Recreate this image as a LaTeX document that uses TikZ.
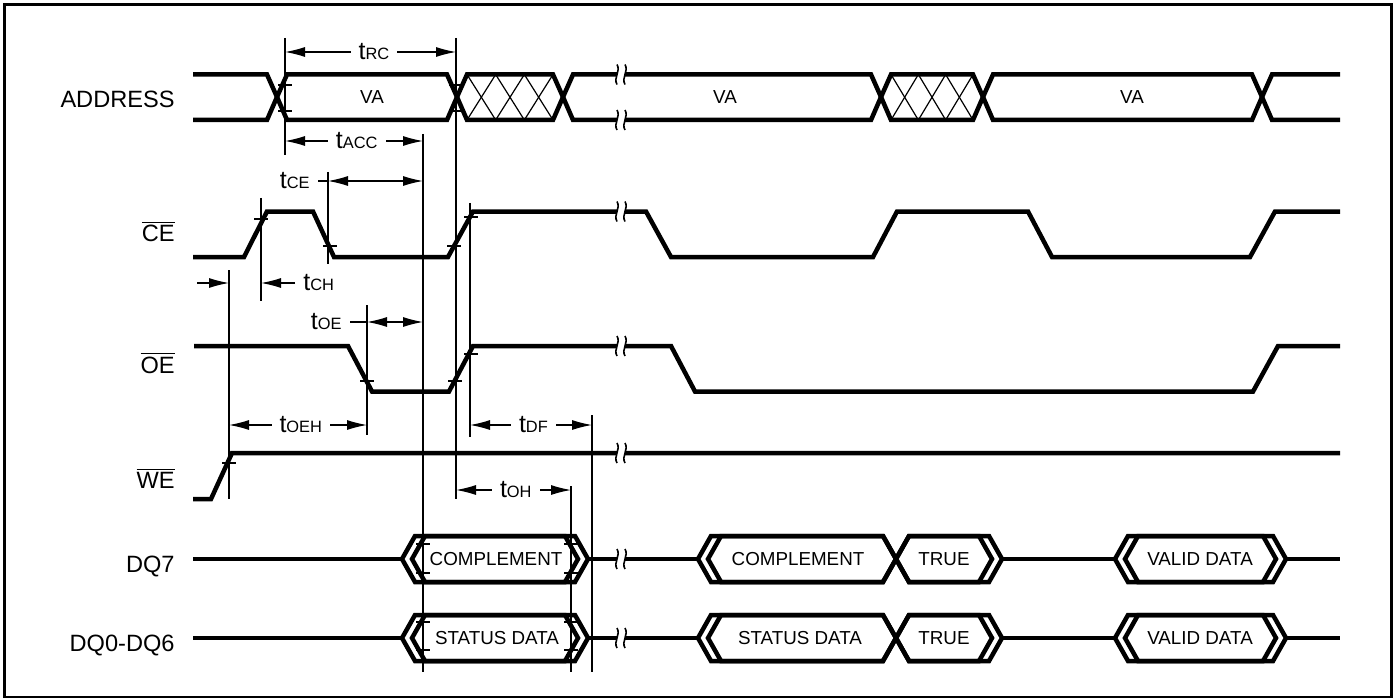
\documentclass[tikz,border=0pt]{standalone}
\usepackage{fontspec}
\setmainfont{Liberation Sans}
\usetikzlibrary{arrows.meta}

\tikzset{
  sig/.style={line width=2.25pt},
  guide/.style={line width=0.55pt},
  hatchln/.style={line width=0.6pt},
  dimarr/.style={guide, {Latex[length=10pt,width=5pt]}-{Latex[length=10pt,width=5pt]}},
  onearr/.style={guide, -{Latex[length=10pt,width=5pt]}},
  tlab/.style={fill=white, inner xsep=4pt, inner ysep=1pt},
  sname/.style={anchor=base east, inner sep=0pt, font=\fontsize{11.8}{14}\selectfont},
  btext/.style={inner sep=1pt, font=\fontsize{9.4}{11}\selectfont},
}
\newcommand{\tsub}[1]{{\fontsize{12.5}{14}\selectfont t}{\fontsize{8.2}{9}\selectfont #1}}
% hexagon data box: left tip, right tip, level
\newcommand{\dhex}[3]{\draw[sig] (#1,#3) -- (#1+13,#3-23) -- (#2-13,#3-23) -- (#2,#3) -- (#2-13,#3+23) -- (#1+13,#3+23) -- cycle;}
% two boxes meeting in one crossing: left tip, crossing, right tip, level
\newcommand{\dpair}[4]{\draw[sig] (#1,#4) -- (#1+13,#4-23) -- (#2-13,#4-23) -- (#2+13,#4+23) -- (#3-13,#4+23) -- (#3,#4) -- (#3-13,#4-23) -- (#2+13,#4-23) -- (#2-13,#4+23) -- (#1+13,#4+23) -- cycle;}

\begin{document}
\begin{tikzpicture}[x=0.5pt,y=-0.5pt]
  \useasboundingbox (0,0) rectangle (1400,700);
  \draw[line width=1.35pt] (4.5,4.5) rectangle (1391.5,697);

  % signal names
  \node[sname] (nAddr) at (175,108) {ADDRESS};
  \node[sname] (nCE)   at (175,242) {$\overline{\mbox{CE}}$};
  \node[sname] (nOE)   at (175,373) {$\overline{\mbox{OE}}$};
  \node[sname] (nWE)   at (175,488) {$\overline{\mbox{WE}}$};
  \node[sname] (nDQa)  at (175,572) {DQ7};
  \node[sname] (nDQb)  at (175,651) {DQ0-DQ6};

  % reference lines and level ticks
  \def\guides {285/38/155, 456/38/499, 423/134/672, 328/172/264, 261/198/301, 229/270/499, 367/305/435, 470/203/437, 592/415/672, 571/486/672}
  \foreach \x/\ya/\yb in \guides
  {  \draw[guide] (\x,\ya) -- (\x,\yb);
  }
  \def\ticks {285/85, 285/111, 456/85, 456/111, 261/219, 330/246, 454/246, 471/217, 367/381, 455/381, 471/354, 229/463, 423/544, 423/573, 571/544, 571/573, 423/622, 423/650, 571/622, 571/650}
  \foreach \x/\y in \ticks
  {  \draw[guide] (\x-7,\y) -- (\x+7,\y);
  }

  % ADDRESS bus
  \def\valid {277/457, 563/881, 983/1262}
  \foreach \a/\b in \valid
  {  \draw[sig] (\a,97) -- (\a+10,74.5) -- (\b-10,74.5) -- (\b,97) -- (\b-10,120) -- (\a+10,120) -- cycle;
  }
  \foreach \a/\b in {457/563, 881/983}
  {  \pgfmathsetmacro\w{(\b-\a-20)/3}
     \foreach \k in {0,1,2}
     {  \draw[hatchln] (\a+10+\k*\w,74.5) -- (\a+10+\k*\w+\w,120);
        \draw[hatchln] (\a+10+\k*\w,120) -- (\a+10+\k*\w+\w,74.5);
     }
     \draw[sig] (\a,97) -- (\a+10,74.5) -- (\b-10,74.5) -- (\b,97) -- (\b-10,120) -- (\a+10,120) -- cycle;
  }
  \draw[sig] (193,74.5) -- (267,74.5) -- (277,97) -- (267,120) -- (193,120);
  \draw[sig] (1340,74.5) -- (1272,74.5) -- (1262,97) -- (1272,120) -- (1340,120);
  \node[btext] (va1) at (372,97) {VA};
  \node[btext] (va2) at (725,97) {VA};
  \node[btext] (va3) at (1132,97) {VA};

  % control lines
  \draw[sig] (193,257) -- (244,257) -- (267,211.5) -- (313,211.5) -- (334,257) -- (448,257) -- (473,211.5) -- (646,211.5) -- (671,257) -- (873,257) -- (897,211.5) -- (1028,211.5) -- (1052,257) -- (1250,257) -- (1275,211.5) -- (1340,211.5);
  \draw[sig] (194,346) -- (348,346) -- (372,391.5) -- (449,391.5) -- (473,346) -- (671,346) -- (695,391.5) -- (1253,391.5) -- (1278,346) -- (1340,346);
  \draw[sig] (193,499) -- (211,499) -- (232,453) -- (1340,453);

  % data lines
  \foreach \y in {559,638}
  {  \draw[sig] (193,\y) -- (402,\y);
     \draw[sig] (588,\y) -- (698,\y);
     \draw[sig] (1002,\y) -- (1115,\y);
     \draw[sig] (1286,\y) -- (1340,\y);
     \foreach \d in {0,10}
     {  \dhex{402+\d}{578+\d}{\y}
        \dpair{698+\d}{896}{992+\d}{\y}
        \dhex{1115+\d}{1276+\d}{\y}
     }
  }
  \node[btext] (d7a) at (496,559) {COMPLEMENT};
  \node[btext] (d7b) at (798,559) {COMPLEMENT};
  \node[btext] (d7c) at (944,559) {TRUE};
  \node[btext] (d7d) at (1200,559) {VALID DATA};
  \node[btext] (d0a) at (497,638) {STATUS DATA};
  \node[btext] (d0b) at (800,638) {STATUS DATA};
  \node[btext] (d0c) at (944,638) {TRUE};
  \node[btext] (d0d) at (1200,638) {VALID DATA};

  % breaks
  \foreach \y in {74.5,120,211.5,346,453,559,638}
  {  \fill[white] (617,\y-5) rectangle (625,\y+5);
     \draw[line width=0.8pt] (617,\y-10) .. controls (621,\y-3) and (613,\y+3) .. (617,\y+10);
     \draw[line width=0.8pt] (625,\y-10) .. controls (629,\y-3) and (621,\y+3) .. (625,\y+10);
  }

  % timing parameters
  \def\dims {285/456/52/RC, 285/423/141/ACC, 229/367/425/OEH, 470/592/425/DF, 456/571/490/OH}
  \foreach \a/\b/\y/\s in \dims
  {  \draw[dimarr] (\a,\y) -- (\b,\y) node[tlab, pos=0.52] (t\s) {\tsub{\s}};
  }
  \node[tlab, anchor=east] (tCE) at (318,181) {\tsub{CE}};
  \draw[guide] (tCE.east) -- (328,181);
  \draw[dimarr] (328,181) -- (423,181);
  \node[tlab, anchor=west] (tCH) at (295,283) {\tsub{CH}};
  \draw[onearr] (tCH.west) -- (261,283);
  \draw[onearr] (197,283) -- (229,283);
  \node[tlab, anchor=east] (tOE) at (350,322) {\tsub{OE}};
  \draw[guide] (tOE.east) -- (367,322);
  \draw[dimarr] (367,322) -- (423,322);
\end{tikzpicture}
\end{document}
